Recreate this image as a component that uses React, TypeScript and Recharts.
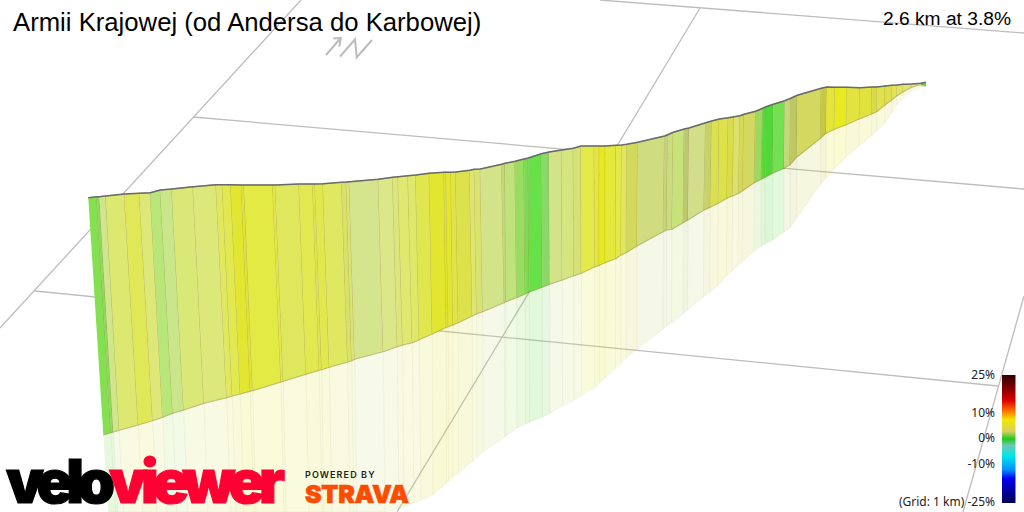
import { ComposedChart, Scatter, XAxis, YAxis } from 'recharts';

// stripe edges: top of wall, foot of wall, end of the shadow
const topX = [88.3, 96.7, 99.3, 105.7, 124.3, 139.3, 150.3, 160.3, 171.7, 193, 216, 222.3, 230.7, 241.3, 244, 272.7, 275.3, 299, 312.7, 315, 323, 341.7, 346.3, 349.3, 378.3, 392.7, 398, 408, 415.7, 429.3, 444, 446, 451, 455.7, 469.7, 474.3, 480.3, 501.7, 505, 515, 524, 528.3, 541.3, 549, 561.7, 573.3, 581, 594.3, 599.3, 605.3, 616, 621.7, 626.7, 637.7, 664.7, 667.7, 673.3, 684.3, 689, 705.7, 711.7, 719.3, 728.3, 734, 740, 744, 755.7, 762.7, 766, 773.3, 784.7, 790.7, 797.3, 821.3, 826.7, 835, 847, 860, 872, 876.7, 885, 891.7, 896.7, 903.3, 911.7, 921, 925.7];
const topY = [197.7, 196.7, 196.7, 196, 194, 193.3, 192.7, 190, 189, 186.7, 184.7, 184.7, 184.7, 185, 185, 185, 185, 184, 184, 184, 183.7, 182.3, 182, 181.7, 179.3, 177.3, 176.7, 175.7, 175, 173.3, 172.3, 172.3, 172.3, 172, 170.3, 169.3, 169, 164.3, 163.3, 161.3, 159, 158, 153.7, 152, 150, 148.3, 146, 146, 146, 146, 145.3, 145, 144.3, 142.3, 136, 134.7, 132.3, 129, 128, 122.7, 121, 119, 117.7, 116.7, 115.7, 114.3, 111.3, 108.3, 106.7, 104.3, 100.7, 98.3, 95.3, 88.3, 87, 87.3, 87.3, 87.7, 87, 87, 86, 85.3, 85, 84.3, 84, 83.3, 82.3];
const footX = [103.3, 111, 113.3, 119.3, 138.3, 152.7, 162.7, 172.7, 183.7, 204, 226.7, 232.3, 240.3, 250.3, 252.7, 281, 283.3, 306, 319.3, 321.7, 329.3, 347.7, 351.7, 354.7, 383.3, 397.3, 402.7, 412.3, 419.3, 432.3, 446.3, 448.3, 453, 458.3, 472.3, 476.7, 482.7, 504.3, 506, 516.7, 525.3, 529.3, 542.3, 549.7, 562.3, 574, 581.3, 594.7, 599.3, 605.3, 615.7, 621, 626.3, 637, 663.3, 666.7, 672, 683.3, 688, 704, 710.3, 718.3, 727, 732.7, 738.7, 742.7, 754.3, 761.3, 765.3, 772.7, 784, 790, 796.7, 820.7, 826, 834.3, 846.3, 859.3, 871.7, 876.7, 885, 891.7, 896.7, 903.3, 911.7, 921, 925.7];
const footY = [435, 432.7, 432, 430.3, 425, 420.7, 417.3, 413.3, 410, 403.3, 397.7, 396, 394, 391.3, 390.7, 382, 381.3, 374.3, 370.3, 369.7, 367.3, 362, 360.7, 359.3, 351.7, 346.7, 345, 342.7, 339.8, 334, 327.5, 326.7, 325, 322.7, 316, 314, 311.7, 302.7, 301.7, 297.7, 294, 292, 287.3, 284.3, 280, 275.7, 273.3, 267, 265.3, 262.7, 258.7, 255, 252.7, 246, 231.7, 230, 229.3, 222.7, 220, 210, 207.3, 203.3, 198.3, 196, 193.3, 190.7, 182.7, 179.3, 177.3, 173.3, 168.3, 165, 157.3, 138.3, 133.3, 129.3, 124.7, 119, 114, 111.7, 105, 100, 96, 91.7, 87.3, 84.7, 86];
const shadowX = [108, 115.5, 118, 123.5, 143, 157, 167, 177, 188, 208, 231, 236, 244, 254, 256, 284, 286, 309, 322, 324, 332, 350, 354, 357, 385, 399, 404, 414, 421, 433, 446.5, 448.5, 453, 458.5, 472.5, 477, 483, 504.5, 506, 517, 525.5, 529.5, 542.5, 550, 562.5, 574, 581.5, 594.7, 599.3, 605, 615.5, 621, 626, 637, 663, 666.5, 671.5, 683, 687.5, 703.5, 710, 718, 726.5, 732, 738, 742, 754, 761, 765, 772.5, 784, 790, 796.7, 820.7, 826, 834, 846, 859, 871.5, 876.7, 885, 891.7, 896.7, 903.3, 911.7, 921, 925.7];
const shadowY = [512, 512, 512, 512, 512, 512, 512, 512, 512, 512, 512, 512, 512, 512, 512, 512, 512, 512, 512, 512, 512, 512, 512, 512, 512, 509, 507, 503, 500, 495, 483, 481, 477, 473, 461, 457, 452, 437, 436, 428, 424, 422, 417, 413, 406, 400, 395, 387, 383, 378, 368, 363, 358, 349, 329, 326, 323, 314, 310, 297, 292, 285, 276, 271, 265, 262, 251, 246, 244, 240, 232, 228, 218, 184, 178, 169, 157, 146, 136, 131, 123, 113, 105, 98, 91, 87, 86];
const stripeColors = ['#85e050', '#90d860', '#cfe68a', '#dce870', '#e0e858', '#dde878', '#b8e678', '#cae68a', '#dae878', '#dde87a', '#e0e860', '#e2e850', '#e2e630', '#e0e438', '#e3ea44', '#e3e84a', '#dfe85c', '#e1e850', '#e0e650', '#e0e84e', '#dfe860', '#d8e268', '#dae470', '#d5e58e', '#dbe788', '#dde67a', '#e0e870', '#dfe868', '#dfe64e', '#e2e62e', '#e3e62c', '#e3e62c', '#e0e444', '#dce24c', '#dfe670', '#d8e46e', '#d3e38a', '#c0d878', '#bfe27c', '#98dc60', '#7adc50', '#68e048', '#8ad868', '#d3e388', '#d5e580', '#d6e278', '#e3e948', '#e4e63c', '#e8e820', '#e3e83a', '#e3e84c', '#e2e65a', '#d3d95a', '#cfdd80', '#c5d47a', '#cbdc80', '#c6e278', '#bcc870', '#d2de8a', '#c8d268', '#dbe050', '#dde24a', '#d8dd48', '#dce070', '#d6da50', '#d2d860', '#9fd860', '#5ad838', '#50d838', '#72e050', '#c5d878', '#bcc860', '#d2d860', '#c8c840', '#e3e538', '#e8ea20', '#e3e340', '#e0e23e', '#d8dc48', '#e0e24c', '#dcdf50', '#e3e258', '#e2e45e', '#e0e478', '#dfe888', '#58dc30'];

const gridLines = [
  [{ x: 0, y: 328 }, { x: 301, y: 0 }],
  [{ x: 193, y: 117 }, { x: 1024, y: 189 }],
  [{ x: 35, y: 291 }, { x: 998, y: 386 }],
  [{ x: 600, y: 0 }, { x: 1024, y: 33 }],
  [{ x: 700, y: 8 }, { x: 397, y: 512 }],
  [{ x: 1024, y: 296 }, { x: 963, y: 512 }],
];
const northArrow = [
  [{ x: 326, y: 55 }, { x: 340.7, y: 38 }],
  [{ x: 333.3, y: 38.5 }, { x: 340.7, y: 38 }, { x: 339.3, y: 46.7 }],
  [{ x: 340, y: 56.7 }, { x: 355, y: 39.3 }, { x: 356.7, y: 57.3 }, { x: 372, y: 40 }],
];
const colorBarBox = [{ x: 1002, y: 375 }, { x: 1015.5, y: 375 }, { x: 1015.5, y: 503 }, { x: 1002, y: 503 }];
const colorStops = [
  ['0%', '#300000'], ['10%', '#800000'], ['20%', '#e00000'], ['29%', '#ff8000'], ['35%', '#f0e800'],
  ['44%', '#d8d060'], ['50%', '#20c820'], ['55%', '#70c8b0'], ['63%', '#00e8e8'], ['74%', '#0090ff'],
  ['81%', '#0000f0'], ['100%', '#000050'],
];
const barLabels = [
  { text: '25%', y: 375 },
  { text: '10%', y: 413 },
  { text: '0%', y: 438 },
  { text: '-10%', y: 464 },
  { text: '(Grid: 1 km) -25%', y: 502 },
];

const NoDot = () => null;
const W = 1024;
const H = 512;
const SANS = '"Liberation Sans", Arial, sans-serif';

const profile = topX.map((x, i) => ({ x, y: topY[i] }));

function quad(i: number, ax: number[], ay: number[], bx: number[], by: number[]) {
  return [
    { x: ax[i], y: ay[i] },
    { x: ax[i + 1], y: ay[i + 1] },
    { x: bx[i + 1], y: by[i + 1] },
    { x: bx[i], y: by[i] },
  ];
}

export default function App() {
  return (
    <div style={{ position: 'absolute', left: 0, top: 0, width: W, height: H, overflow: 'hidden', background: '#fff' }}>
      <ComposedChart width={W} height={H} margin={{ top: 0, right: 0, bottom: 0, left: 0 }}>
        <defs>
          <linearGradient id="gradientBar" x1="0" y1="0" x2="0" y2="1">
            {colorStops.map(([offset, color]) => (
              <stop key={offset} offset={offset} stopColor={color} />
            ))}
          </linearGradient>
        </defs>
        <XAxis type="number" dataKey="x" domain={[0, W]} hide />
        <YAxis type="number" dataKey="y" domain={[0, H]} reversed hide />
        {gridLines.map((d, i) => (
          <Scatter key={`grid${i}`} data={d} shape={NoDot} line={{ stroke: '#bdbdbd', strokeWidth: 1.3, fill: 'none' }} isAnimationActive={false} />
        ))}
        {northArrow.map((d, i) => (
          <Scatter key={`north${i}`} data={d} shape={NoDot} line={{ stroke: '#bbbbbb', strokeWidth: 2, fill: 'none' }} isAnimationActive={false} />
        ))}
        {stripeColors.map((color, i) => (
          <Scatter
            key={`shadow${i}`}
            data={quad(i, footX, footY, shadowX, shadowY)}
            shape={NoDot}
            line={{ fill: color, fillOpacity: 0.2, stroke: '#807850', strokeOpacity: 0.07, strokeWidth: 1 }}
            isAnimationActive={false}
          />
        ))}
        {stripeColors.map((color, i) => (
          <Scatter
            key={`wall${i}`}
            data={quad(i, topX, topY, footX, footY)}
            shape={NoDot}
            line={{ fill: color, stroke: '#8a7a30', strokeOpacity: 0.42, strokeWidth: 1.1 }}
            isAnimationActive={false}
          />
        ))}
        <Scatter data={profile} shape={NoDot} line={{ stroke: '#6a6a6a', strokeWidth: 1.6, fill: 'none' }} isAnimationActive={false} />
        <Scatter data={colorBarBox} shape={NoDot} line={{ fill: 'url(#gradientBar)', stroke: 'none' }} isAnimationActive={false} />
      </ComposedChart>

      <svg width={W} height={H} style={{ position: 'absolute', left: 0, top: 0 }}>
        <text x={13} y={31} fontFamily={SANS} fontSize={25.7} fill="#000">Armii Krajowej (od Andersa do Karbowej)</text>
        <text x={1011} y={25} textAnchor="end" fontFamily={SANS} fontSize={19.2} fill="#000">2.6 km at 3.8%</text>
        {barLabels.map((l) => (
          <text key={l.text} x={995} y={l.y + 4} textAnchor="end" fontFamily='"Noto Sans", sans-serif' fontSize={12} fill="#222">{l.text}</text>
        ))}
        <text x={6} y={503} fontFamily="Inter, sans-serif" fontWeight={900} fontSize={60} letterSpacing={-6.5} fill="#000" stroke="#000" strokeWidth={1.2}>velo</text>
        <text x={109} y={503} fontFamily="Inter, sans-serif" fontWeight={900} fontSize={60} letterSpacing={-6} fill="#ff0033" stroke="#ff0033" strokeWidth={1.2}>viewer</text>
        <text x={305} y={478} fontFamily="Inter, sans-serif" fontWeight={600} fontSize={9} letterSpacing={1.1} fill="#222">POWERED BY</text>
        <text x={305} y={503} fontFamily="Inter, sans-serif" fontWeight={900} fontSize={25} letterSpacing={-0.3} fill="#fc4c02" stroke="#fc4c02" strokeWidth={0.6}>STRAVA</text>
      </svg>
    </div>
  );
}
